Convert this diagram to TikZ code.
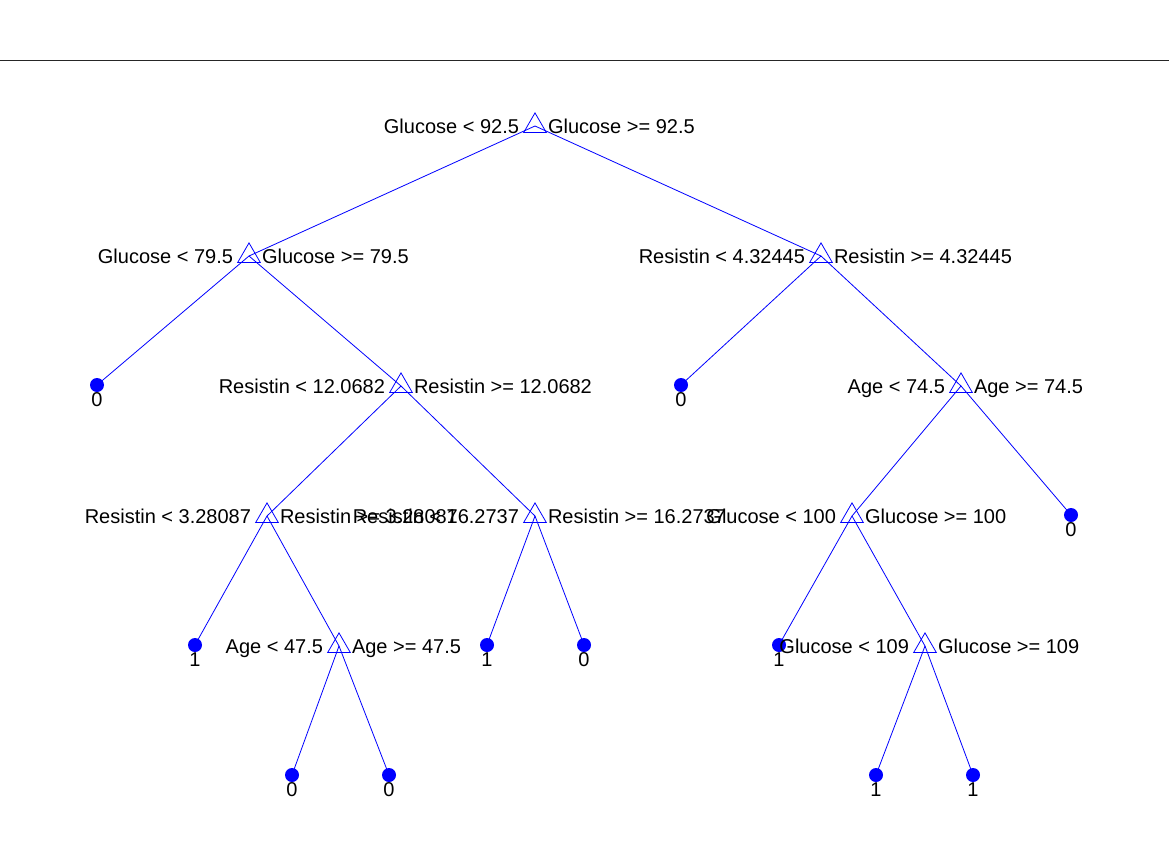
\documentclass[tikz,border=0pt]{standalone}
\usepackage{fontspec}
\setmainfont{Liberation Sans}
\usetikzlibrary{shapes.geometric,calc}

\begin{document}
\begin{tikzpicture}[x=1pt,y=-1pt,
  font=\fontsize{20}{24}\selectfont,
  edge/.style={draw=blue, line width=0.8pt},
  splitmark/.style={regular polygon, regular polygon sides=3, minimum size=26.2pt,
    inner sep=0pt, outer sep=0pt, draw=blue, line width=0.8pt},
  leafmark/.style={circle, minimum size=14pt, inner sep=0pt, outer sep=0pt, fill=blue},
  cond/.style={inner sep=0pt, outer sep=0pt, text=black},
  rule/.style={draw=black!85, line width=1.1pt}]
\useasboundingbox (0,0) rectangle (1169,840);

% frame rule along the top
\coordinate (ruleL) at (0,60.5);
\coordinate (ruleR) at (1169,60.5);
\draw[rule] (ruleL) -- (ruleR);

% tree node positions
\coordinate (n1) at (535,126);
\coordinate (n2) at (249,256);
\coordinate (n3) at (821,256);
\coordinate (n4) at (97,385);
\coordinate (n5) at (401,386);
\coordinate (n6) at (681,385);
\coordinate (n7) at (961,386);
\coordinate (n8) at (267,516);
\coordinate (n9) at (535,516);
\coordinate (n10) at (852,516);
\coordinate (n11) at (1071,515);
\coordinate (n12) at (195,645);
\coordinate (n13) at (339,646);
\coordinate (n14) at (487,645);
\coordinate (n15) at (584,645);
\coordinate (n16) at (779,645);
\coordinate (n17) at (925,646);
\coordinate (n18) at (292,775);
\coordinate (n19) at (389,775);
\coordinate (n20) at (876,775);
\coordinate (n21) at (973,775);

% edges first, markers and labels on top
\draw[edge] (n1) -- (n2);
\draw[edge] (n1) -- (n3);
\draw[edge] (n2) -- (n4);
\draw[edge] (n2) -- (n5);
\draw[edge] (n3) -- (n6);
\draw[edge] (n3) -- (n7);
\draw[edge] (n5) -- (n8);
\draw[edge] (n5) -- (n9);
\draw[edge] (n7) -- (n10);
\draw[edge] (n7) -- (n11);
\draw[edge] (n8) -- (n12);
\draw[edge] (n8) -- (n13);
\draw[edge] (n9) -- (n14);
\draw[edge] (n9) -- (n15);
\draw[edge] (n10) -- (n16);
\draw[edge] (n10) -- (n17);
\draw[edge] (n13) -- (n18);
\draw[edge] (n13) -- (n19);
\draw[edge] (n17) -- (n20);
\draw[edge] (n17) -- (n21);

% markers: open triangles for splits, filled dots for leaves
\node[splitmark] (m1) at (n1) {};
\node[splitmark] (m2) at (n2) {};
\node[splitmark] (m3) at (n3) {};
\node[leafmark] (m4) at (n4) {};
\node[splitmark] (m5) at (n5) {};
\node[leafmark] (m6) at (n6) {};
\node[splitmark] (m7) at (n7) {};
\node[splitmark] (m8) at (n8) {};
\node[splitmark] (m9) at (n9) {};
\node[splitmark] (m10) at (n10) {};
\node[leafmark] (m11) at (n11) {};
\node[leafmark] (m12) at (n12) {};
\node[splitmark] (m13) at (n13) {};
\node[leafmark] (m14) at (n14) {};
\node[leafmark] (m15) at (n15) {};
\node[leafmark] (m16) at (n16) {};
\node[splitmark] (m17) at (n17) {};
\node[leafmark] (m18) at (n18) {};
\node[leafmark] (m19) at (n19) {};
\node[leafmark] (m20) at (n20) {};
\node[leafmark] (m21) at (n21) {};

% branch conditions
\node[cond, anchor=base east] (t1a) at ($(m1.center)+(-16,7)$) {Glucose < 92.5};
\node[cond, anchor=base west] (t1b) at ($(m1.center)+(13,7)$) {Glucose >= 92.5};
\node[cond, anchor=base east] (t2a) at ($(m2.center)+(-16,7)$) {Glucose < 79.5};
\node[cond, anchor=base west] (t2b) at ($(m2.center)+(13,7)$) {Glucose >= 79.5};
\node[cond, anchor=base east] (t3a) at ($(m3.center)+(-16,7)$) {Resistin < 4.32445};
\node[cond, anchor=base west] (t3b) at ($(m3.center)+(13,7)$) {Resistin >= 4.32445};
\node[cond, anchor=base east] (t5a) at ($(m5.center)+(-16,7)$) {Resistin < 12.0682};
\node[cond, anchor=base west] (t5b) at ($(m5.center)+(13,7)$) {Resistin >= 12.0682};
\node[cond, anchor=base east] (t7a) at ($(m7.center)+(-16,7)$) {Age < 74.5};
\node[cond, anchor=base west] (t7b) at ($(m7.center)+(13,7)$) {Age >= 74.5};
\node[cond, anchor=base east] (t8a) at ($(m8.center)+(-16,7)$) {Resistin < 3.28087};
\node[cond, anchor=base west] (t8b) at ($(m8.center)+(13,7)$) {Resistin >= 3.28087};
\node[cond, anchor=base east] (t9a) at ($(m9.center)+(-16,7)$) {Resistin < 16.2737};
\node[cond, anchor=base west] (t9b) at ($(m9.center)+(13,7)$) {Resistin >= 16.2737};
\node[cond, anchor=base east] (t10a) at ($(m10.center)+(-16,7)$) {Glucose < 100};
\node[cond, anchor=base west] (t10b) at ($(m10.center)+(13,7)$) {Glucose >= 100};
\node[cond, anchor=base east] (t13a) at ($(m13.center)+(-16,7)$) {Age < 47.5};
\node[cond, anchor=base west] (t13b) at ($(m13.center)+(13,7)$) {Age >= 47.5};
\node[cond, anchor=base east] (t17a) at ($(m17.center)+(-16,7)$) {Glucose < 109};
\node[cond, anchor=base west] (t17b) at ($(m17.center)+(13,7)$) {Glucose >= 109};

% class labels under the leaves
\node[cond, anchor=base] (c4) at ($(m4.center)+(0,21)$) {0};
\node[cond, anchor=base] (c6) at ($(m6.center)+(0,21)$) {0};
\node[cond, anchor=base] (c11) at ($(m11.center)+(0,21)$) {0};
\node[cond, anchor=base] (c12) at ($(m12.center)+(0,21)$) {1};
\node[cond, anchor=base] (c14) at ($(m14.center)+(0,21)$) {1};
\node[cond, anchor=base] (c15) at ($(m15.center)+(0,21)$) {0};
\node[cond, anchor=base] (c16) at ($(m16.center)+(0,21)$) {1};
\node[cond, anchor=base] (c18) at ($(m18.center)+(0,21)$) {0};
\node[cond, anchor=base] (c19) at ($(m19.center)+(0,21)$) {0};
\node[cond, anchor=base] (c20) at ($(m20.center)+(0,21)$) {1};
\node[cond, anchor=base] (c21) at ($(m21.center)+(0,21)$) {1};
\end{tikzpicture}
\end{document}
